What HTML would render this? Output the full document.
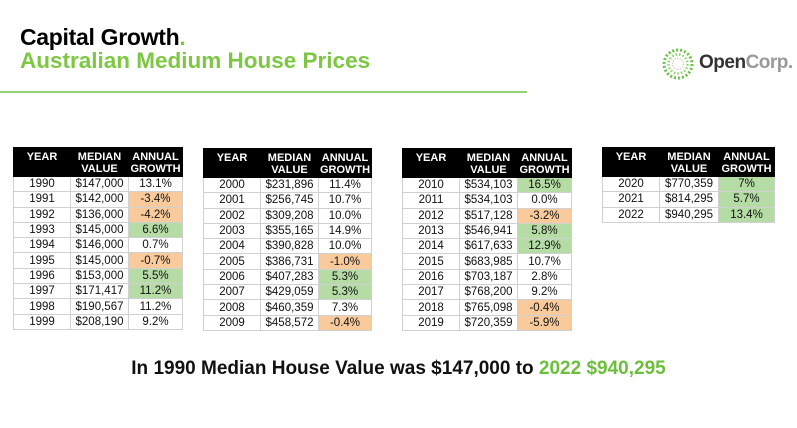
<!DOCTYPE html>
<html><head><style>
body{margin:0;width:797px;height:428px;background:#fff;position:relative;font-family:"Liberation Sans",Arial,sans-serif;overflow:hidden}
.t1{position:absolute;left:20px;top:24px;font-size:23px;font-weight:bold;color:#000;letter-spacing:-0.3px}
.t2{position:absolute;left:20px;top:48px;font-size:22.5px;font-weight:bold;color:#7dc742;letter-spacing:0px}
.line{position:absolute;left:0;top:91px;width:527px;height:2px;background:#92d36e}
table{position:absolute;border-collapse:collapse;font-size:11.5px;color:#111}
td,th{border:1px solid #d0d0d0;text-align:center;padding:0;height:14.3px;line-height:14px}
th{background:#000;color:#fff;font-weight:bold;font-size:11px;line-height:12px;height:25px;border-color:#000;vertical-align:top;padding-top:3px}
.o{background:#f9cb9c}.g{background:#b5dca4}
.foot{position:absolute;left:0;width:797px;text-align:center;top:358px;font-size:19px;font-weight:bold;color:#111}
.foot span{color:#6cbf3b}
.logo{position:absolute;left:662px;top:48px}
.lt{position:absolute;left:699px;top:52px;font-size:19px;font-weight:bold;color:#333;letter-spacing:-0.5px}
.lt span{color:#999}
</style></head><body>
<div class="t1">Capital Growth<span style="color:#7dc742">.</span></div>
<div class="t2">Australian Medium House Prices</div>
<div class="line"></div>
<svg class="logo" width="32" height="32" viewBox="0 0 32 32">
<g fill="#6cc04a">
<circle cx="16" cy="16" r="14" fill="none" stroke="#6cc04a" stroke-width="3" stroke-dasharray="2 2"/>
<circle cx="16" cy="16" r="9.5" fill="none" stroke="#8fd46a" stroke-width="2.5" stroke-dasharray="1.5 2"/>
<circle cx="16" cy="16" r="5.5" fill="none" stroke="#bbb" stroke-width="1.2" stroke-dasharray="1 1.5"/>
</g></svg>
<div class="lt">Open<span>Corp.</span></div>

<table style="left:13px;top:147px;width:170px">
<tr><th style="width:56px">YEAR</th><th style="width:57px">MEDIAN<br>VALUE</th><th>ANNUAL<br>GROWTH</th></tr>
<tr><td>1990</td><td>$147,000</td><td>13.1%</td></tr>
<tr><td>1991</td><td>$142,000</td><td class="o">-3.4%</td></tr>
<tr><td>1992</td><td>$136,000</td><td class="o">-4.2%</td></tr>
<tr><td>1993</td><td>$145,000</td><td class="g">6.6%</td></tr>
<tr><td>1994</td><td>$146,000</td><td>0.7%</td></tr>
<tr><td>1995</td><td>$145,000</td><td class="o">-0.7%</td></tr>
<tr><td>1996</td><td>$153,000</td><td class="g">5.5%</td></tr>
<tr><td>1997</td><td>$171,417</td><td class="g">11.2%</td></tr>
<tr><td>1998</td><td>$190,567</td><td>11.2%</td></tr>
<tr><td>1999</td><td>$208,190</td><td>9.2%</td></tr>
</table>

<table style="left:203px;top:148px;width:169px">
<tr><th style="width:56px">YEAR</th><th style="width:57px">MEDIAN<br>VALUE</th><th>ANNUAL<br>GROWTH</th></tr>
<tr><td>2000</td><td>$231,896</td><td>11.4%</td></tr>
<tr><td>2001</td><td>$256,745</td><td>10.7%</td></tr>
<tr><td>2002</td><td>$309,208</td><td>10.0%</td></tr>
<tr><td>2003</td><td>$355,165</td><td>14.9%</td></tr>
<tr><td>2004</td><td>$390,828</td><td>10.0%</td></tr>
<tr><td>2005</td><td>$386,731</td><td class="o">-1.0%</td></tr>
<tr><td>2006</td><td>$407,283</td><td class="g">5.3%</td></tr>
<tr><td>2007</td><td>$429,059</td><td class="g">5.3%</td></tr>
<tr><td>2008</td><td>$460,359</td><td>7.3%</td></tr>
<tr><td>2009</td><td>$458,572</td><td class="o">-0.4%</td></tr>
</table>

<table style="left:402px;top:148px;width:170px">
<tr><th style="width:56px">YEAR</th><th style="width:57px">MEDIAN<br>VALUE</th><th>ANNUAL<br>GROWTH</th></tr>
<tr><td>2010</td><td>$534,103</td><td class="g">16.5%</td></tr>
<tr><td>2011</td><td>$534,103</td><td>0.0%</td></tr>
<tr><td>2012</td><td>$517,128</td><td class="o">-3.2%</td></tr>
<tr><td>2013</td><td>$546,941</td><td class="g">5.8%</td></tr>
<tr><td>2014</td><td>$617,633</td><td class="g">12.9%</td></tr>
<tr><td>2015</td><td>$683,985</td><td>10.7%</td></tr>
<tr><td>2016</td><td>$703,187</td><td>2.8%</td></tr>
<tr><td>2017</td><td>$768,200</td><td>9.2%</td></tr>
<tr><td>2018</td><td>$765,098</td><td class="o">-0.4%</td></tr>
<tr><td>2019</td><td>$720,359</td><td class="o">-5.9%</td></tr>
</table>

<table style="left:602px;top:147px;width:173px">
<tr><th style="width:56px">YEAR</th><th style="width:58px">MEDIAN<br>VALUE</th><th>ANNUAL<br>GROWTH</th></tr>
<tr><td>2020</td><td>$770,359</td><td class="g">7%</td></tr>
<tr><td>2021</td><td>$814,295</td><td class="g">5.7%</td></tr>
<tr><td>2022</td><td>$940,295</td><td class="g">13.4%</td></tr>
</table>

<div class="foot">In 1990 Median House Value was $147,000 to <span>2022 $940,295</span></div>
</body></html>
